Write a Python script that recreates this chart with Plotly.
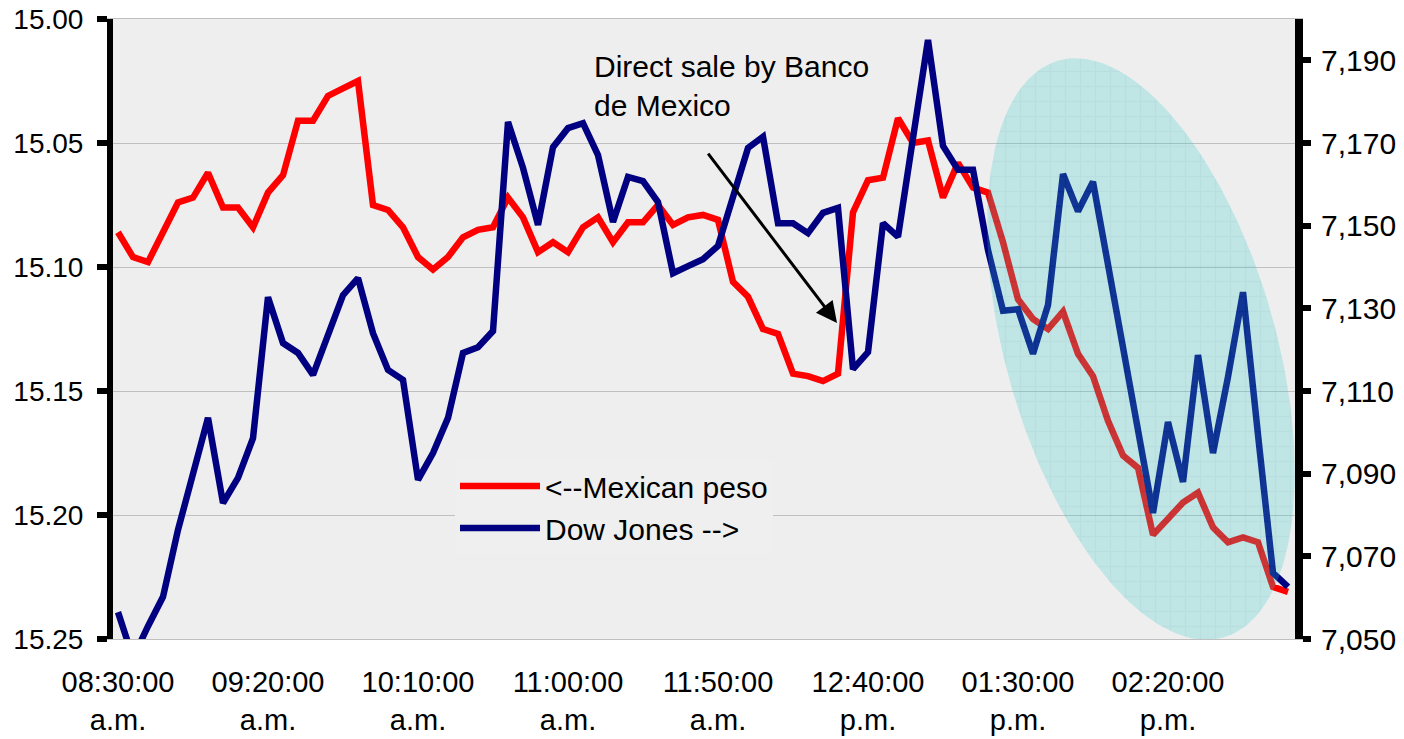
import numpy as np
import pandas as pd
import plotly.graph_objects as go

# ---- data ----
peso = [15.086, 15.096, 15.098, 15.086, 15.074, 15.072, 15.062, 15.076, 15.076, 15.084,
        15.070, 15.063, 15.041, 15.041, 15.031, 15.028, 15.025, 15.075, 15.077, 15.084,
        15.096, 15.101, 15.096, 15.088, 15.085, 15.084, 15.072, 15.080, 15.094, 15.090,
        15.094, 15.084, 15.080, 15.090, 15.082, 15.082, 15.075, 15.083, 15.080, 15.079,
        15.081, 15.106, 15.112, 15.125, 15.127, 15.143, 15.144, 15.146, 15.143, 15.078,
        15.065, 15.064, 15.040, 15.050, 15.049, 15.072, 15.058, 15.068, 15.070, 15.090,
        15.113, 15.121, 15.125, 15.118, 15.135, 15.144, 15.162, 15.176, 15.181, 15.208,
        15.201, 15.195, 15.191, 15.205, 15.211, 15.209, 15.211, 15.229, 15.231]

dow = [7056.5, 7045.4, 7053.1, 7060.2, 7076.4, 7090.2, 7103.5, 7082.9, 7089.0, 7098.6,
       7132.7, 7121.6, 7119.2, 7113.9, 7123.3, 7133.2, 7137.3, 7124.0, 7115.1, 7112.7,
       7088.5, 7095.0, 7103.5, 7119.2, 7120.6, 7124.5, 7175.1, 7164.0, 7150.2, 7169.0,
       7173.6, 7174.8, 7167.1, 7150.9, 7161.8, 7160.8, 7155.7, 7138.5, 7140.2, 7141.9,
       7145.1, 7156.7, 7168.8, 7171.5, 7150.6, 7150.6, 7148.2, 7153.1, 7154.3, 7115.3,
       7119.4, 7150.6, 7147.3, 7171.2, 7194.9, 7169.3, 7163.5, 7163.5, 7144.1, 7129.4,
       7129.8, 7119.0, 7130.8, 7162.5, 7153.5, 7160.6, 7140.5, 7121.1, 7101.8, 7080.5,
       7102.5, 7088.0, 7118.7, 7095.0, 7113.4, 7133.9, 7099.4, 7066.0, 7062.6]

times = pd.date_range("2000-01-01 08:30:00", periods=len(peso), freq="5min")

tick_times = ["2000-01-01 08:30:00", "2000-01-01 09:20:00", "2000-01-01 10:10:00",
              "2000-01-01 11:00:00", "2000-01-01 11:50:00", "2000-01-01 12:40:00",
              "2000-01-01 13:30:00", "2000-01-01 14:20:00"]
tick_text = ["08:30:00<br>a.m.", "09:20:00<br>a.m.", "10:10:00<br>a.m.", "11:00:00<br>a.m.",
             "11:50:00<br>a.m.", "12:40:00<br>p.m.", "01:30:00<br>p.m.", "02:20:00<br>p.m."]

left_ticks = [15.00, 15.05, 15.10, 15.15, 15.20, 15.25]
right_ticks = [7050, 7070, 7090, 7110, 7130, 7150, 7170, 7190]

FONT = "Liberation Sans, Arial, sans-serif"

# ---- layout geometry ----
W, H = 1404, 739
ML, MR, MT, MB = 113, 109, 19, 100
PW, PH = W - ML - MR, H - MT - MB

fig = go.Figure()

fig.add_trace(go.Scatter(x=times, y=peso, name="<--Mexican peso", mode="lines",
                         line=dict(color="#FF0000", width=6.5), legendgroup="a",
                         yaxis="y"))
fig.add_trace(go.Scatter(x=times, y=dow, name="Dow Jones -->", mode="lines",
                         line=dict(color="#000080", width=6.5), legendgroup="b",
                         yaxis="y2"))

# highlight ellipse (drawn on an overlay axis in paper-like units)
cx, cy, a, b, th = 1141, 349, 300, 135, np.deg2rad(16)
t = np.linspace(0, 2 * np.pi, 240)
ux, uy = -np.sin(th), -np.cos(th)
vx, vy = np.cos(th), -np.sin(th)
px = cx + a * np.cos(t) * ux + b * np.sin(t) * vx
py = cy + a * np.cos(t) * uy + b * np.sin(t) * vy
ex = (px - ML) / PW
ey = (MT + PH - py) / PH
fig.add_trace(go.Scatter(x=ex, y=ey, xaxis="x2", yaxis="y3", mode="lines",
                         line=dict(width=0, color="rgba(0,0,0,0)"), fill="toself",
                         fillcolor="rgb(60,205,205)",
                         fillpattern=dict(shape="+", size=15, solidity=0.18,
                                          fgcolor="rgb(0,150,160)", bgcolor="rgb(60,205,205)"),
                         opacity=0.26, showlegend=False, hoverinfo="skip"))

fig.update_layout(
    width=W, height=H,
    margin=dict(l=ML, r=MR, t=MT, b=MB, autoexpand=False),
    paper_bgcolor="white", plot_bgcolor="#EEEEEE",
    font=dict(family=FONT, size=30, color="black"),
    showlegend=True,
    legend=dict(x=(455 - ML) / PW, y=(MT + PH - 460) / PH, xanchor="left", yanchor="top",
                bgcolor="#EFEFEF", font=dict(size=30, family=FONT), itemwidth=80,
                tracegroupgap=6, traceorder="normal"),
    xaxis=dict(type="date", range=["2000-01-01 08:28:20", "2000-01-01 15:02:20"],
               tickvals=tick_times, ticktext=tick_text, showgrid=False, ticks="",
               showline=True, linecolor="#C0C0C0", linewidth=1, mirror=True,
               tickfont=dict(size=29), zeroline=False, automargin=False,
               ticklabelstandoff=17),
    yaxis=dict(range=[15.25, 15.00], tickvals=left_ticks, tickformat=".2f",
               showgrid=True, gridcolor="#C0C0C0", gridwidth=1,
               showline=True, linecolor="black", linewidth=6,
               ticks="outside", ticklen=10, tickwidth=6, tickcolor="black",
               tickfont=dict(size=28), zeroline=False, automargin=False,
               ticklabelstandoff=8),
    yaxis2=dict(range=[7050, 7200], overlaying="y", side="right", tickvals=right_ticks,
                tickformat=",d", showgrid=False, showline=True,
                linecolor="black", linewidth=8, ticks="outside", ticklen=8, tickwidth=6,
                tickcolor="black", tickfont=dict(size=30), zeroline=False,
                automargin=False, ticklabelstandoff=4),
    yaxis4=dict(range=[7050, 7200], overlaying="y", side="right", tickvals=right_ticks,
                showgrid=False, showline=False, ticks="inside", ticklen=8, tickwidth=6,
                tickcolor="black", showticklabels=False, zeroline=False, automargin=False),
    xaxis2=dict(range=[0, 1], overlaying="x", visible=False),
    yaxis3=dict(range=[0, 1], overlaying="y", visible=False),
)

fig.add_annotation(text="Direct sale by Banco<br>de Mexico", xref="paper", yref="paper",
                   x=(592 - ML) / PW, y=(MT + PH - 48) / PH, xanchor="left", yanchor="top",
                   align="left", showarrow=False, font=dict(size=30, family=FONT))
fig.add_annotation(text="", x="2000-01-01 12:29:40", y=15.1226, xref="x", yref="y",
                   showarrow=True, arrowhead=2, arrowwidth=3, arrowsize=1.4,
                   arrowcolor="black", ax=-130, ay=-171, axref="pixel", ayref="pixel",
                   standoff=0)

fig.write_html("out.html")
